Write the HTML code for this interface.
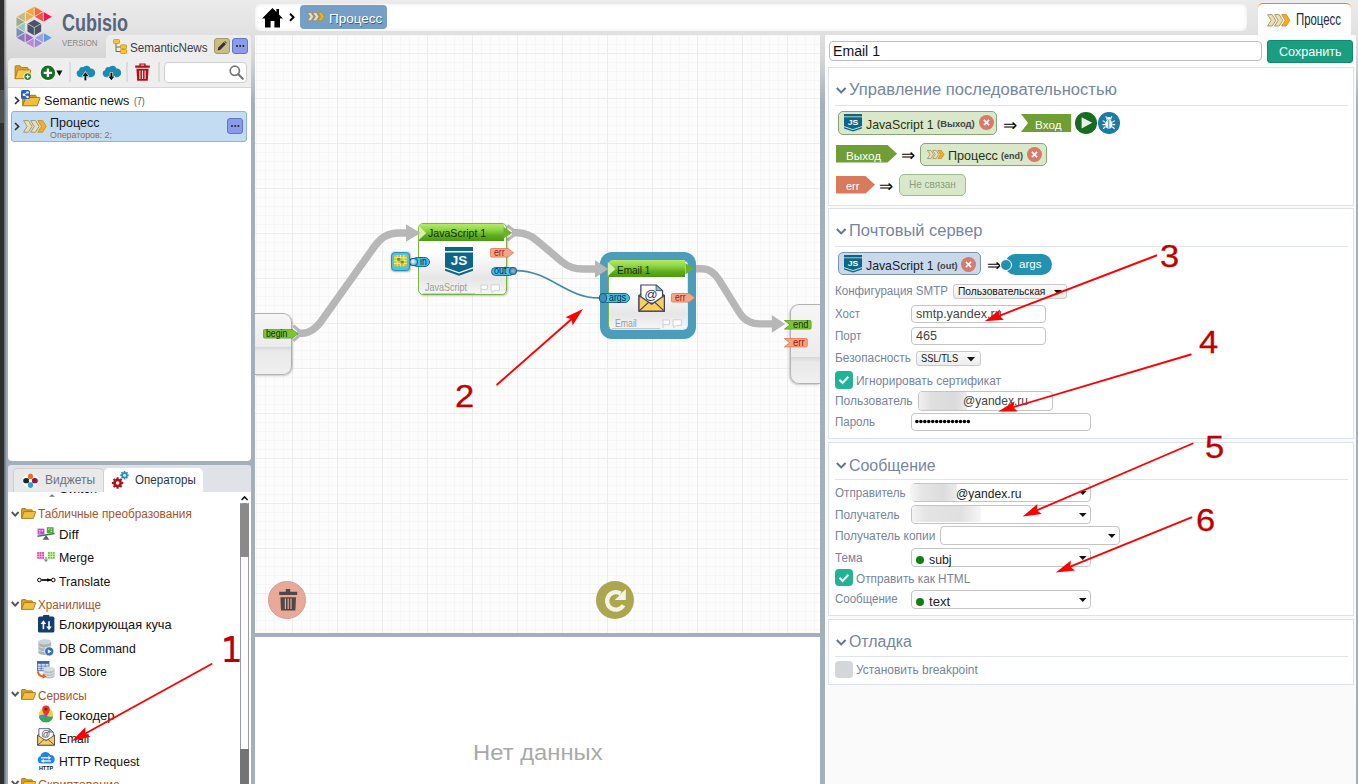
<!DOCTYPE html>
<html><head><meta charset="utf-8"><title>Cubisio</title>
<style>
*{box-sizing:border-box;margin:0;padding:0}
html,body{width:1358px;height:784px;overflow:hidden}
body{position:relative;font-family:"Liberation Sans",sans-serif;color:#111;
 background:linear-gradient(to bottom,#ebebeb 0,#e2e2e2 30px,#d6d6d6 58px,#a3b0bb 104px,#a3b0bb 100%);}
.a{position:absolute}
.t{position:absolute;white-space:nowrap;line-height:1;display:inline-block}
svg{position:absolute;overflow:visible}
.lbl{color:#76849a;font-size:12.5px}
.inp{position:absolute;background:#fff;border:1px solid #c4c4c4;border-radius:4px}
.sec{position:absolute;left:828px;width:526px;background:#fff;border:1px solid #dde2e8}
.hr{position:absolute;left:835px;width:513px;height:1px;background:#dfe4ea}
.h{color:#7686a0;font-size:17.5px}
.chip{position:absolute;border-radius:5px}
.gchip{background:#d9e8c9;border:1px solid #86a476}
.bchip{background:#c9d9ea;border:1px solid #7d93ad}
.x{position:absolute;width:15px;height:15px;border-radius:50%;background:#d67c6c}
.it{font-size:14px;color:#111}
.num{font-size:31.4px;color:#c00000;transform:scaleX(1.1);transform-origin:0 50%;-webkit-text-stroke:0.3px #c00000}
.grp{font-size:13px;color:#a5552a}
</style></head><body>

<!-- ===== frame ===== -->
<div class="a" style="left:0;top:0;width:4px;height:784px;background:#2f2f2f"></div>
<div class="a" style="left:0;top:90px;width:4px;height:33px;background:#505050"></div>
<div class="a" style="left:3.8px;top:0;width:3.4px;height:784px;background:linear-gradient(to right,rgba(40,44,48,.55),rgba(40,44,48,0))"></div>

<!-- LEFT-TOP -->
<!-- logo -->
<svg style="left:0;top:0" width="60" height="56">
<polygon points="34.30,6.30 34.30,16.80 25.21,11.55" fill="#f4a445" stroke="#eee" stroke-width="0.6"></polygon>
<polygon points="34.30,6.30 34.30,16.80 43.39,11.55" fill="#f2702f" stroke="#eee" stroke-width="0.6"></polygon>
<polygon points="25.21,11.55 25.21,22.05 34.30,16.80" fill="#ecb04c" stroke="#eee" stroke-width="0.6"></polygon>
<polygon points="25.21,11.55 25.21,22.05 16.11,16.80" fill="#c9b98a" stroke="#eee" stroke-width="0.6"></polygon>
<polygon points="43.39,11.55 43.39,22.05 34.30,16.80" fill="#f0514b" stroke="#eee" stroke-width="0.6"></polygon>
<polygon points="43.39,11.55 43.39,22.05 52.49,16.80" fill="#f0174a" stroke="#eee" stroke-width="0.6"></polygon>
<polygon points="16.11,16.80 16.11,27.30 25.21,22.05" fill="#a2a985" stroke="#eee" stroke-width="0.6"></polygon>
<polygon points="25.21,22.05 25.21,32.55 16.11,27.30" fill="#9cc2c2" stroke="#eee" stroke-width="0.6"></polygon>
<polygon points="16.11,27.30 16.11,37.80 25.21,32.55" fill="#7a8fba" stroke="#eee" stroke-width="0.6"></polygon>
<polygon points="25.21,32.55 25.21,43.05 16.11,37.80" fill="#8a7aba" stroke="#eee" stroke-width="0.6"></polygon>
<polygon points="25.21,32.55 25.21,43.05 34.30,37.80" fill="#9a6ac2" stroke="#eee" stroke-width="0.6"></polygon>
<polygon points="34.30,37.80 34.30,48.30 25.21,43.05" fill="#ba8ada" stroke="#eee" stroke-width="0.6"></polygon>
<polygon points="34.30,37.80 34.30,48.30 43.39,43.05" fill="#a08ad8" stroke="#eee" stroke-width="0.6"></polygon>
<polygon points="43.39,32.55 43.39,43.05 34.30,37.80" fill="#9aa2e2" stroke="#eee" stroke-width="0.6"></polygon>
<polygon points="43.39,32.55 43.39,43.05 52.49,37.80" fill="#6a98e0" stroke="#eee" stroke-width="0.6"></polygon>
<polygon points="34.30,19.70 41.14,23.65 41.14,31.55 34.30,35.50 27.46,31.55 27.46,23.65" fill="#4a5468"></polygon>
<line x1="34.30" y1="27.60" x2="41.14" y2="23.65" stroke="#e4e4e4" stroke-width="0.7"></line>
<line x1="34.30" y1="27.60" x2="34.30" y2="35.50" stroke="#e4e4e4" stroke-width="0.7"></line>
<line x1="34.30" y1="27.60" x2="27.46" y2="23.65" stroke="#e4e4e4" stroke-width="0.7"></line>
</svg>

<span class="t" style="left: 61.5px; top: 12.2px; font-size: 23px; font-weight: bold; color: rgb(86, 101, 126); transform-origin: 0px 50%; transform: scaleX(0.7825);">Cubisio</span>
<span class="t" style="left: 61.5px; top: 38.2px; font-size: 9.8px; color: rgb(134, 134, 134); transform-origin: 0px 50%; transform: scaleX(0.8048);">VERSION</span>
<!-- tab SemanticNews -->
<div class="a" style="left:106px;top:35px;width:145px;height:24px;background:#ededed;border-radius:5px 3px 0 0"></div>
<svg style="left:113px;top:39px" width="14" height="15" viewBox="0 0 14 15">
 <path d="M3 4.5V12.5H8M3 8H8" fill="none" stroke="#666" stroke-width="1"></path>
 <rect x="0.5" y="0.5" width="6" height="4" rx="0.8" fill="#f8c42c" stroke="#c8951a" stroke-width="0.8"></rect>
 <rect x="7.5" y="5.8" width="6" height="4" rx="0.8" fill="#f8c42c" stroke="#c8951a" stroke-width="0.8"></rect>
 <rect x="7.5" y="10.5" width="6" height="4" rx="0.8" fill="#f8c42c" stroke="#c8951a" stroke-width="0.8"></rect>
</svg>
<span class="t" style="left: 130.2px; top: 41.6px; font-size: 12.5px; color: rgb(64, 64, 64); transform-origin: 0px 50%; transform: scaleX(0.9307);">SemanticNews</span>
<div class="a" style="left:214px;top:38.3px;width:15.5px;height:15.5px;background:#c9bd8a;border:1px solid #a39a66;border-radius:3px"></div>
<svg style="left:217px;top:41px" width="10" height="10" viewBox="0 0 10 10"><path d="M0.6 9.4L1.3 6.6L6.8 1.1L8.9 3.2L3.4 8.7Z" fill="#333"></path><path d="M7.4 0.6L8 0L10 2L9.4 2.6Z" fill="#333"></path></svg>
<div class="a" style="left:232px;top:38.3px;width:15.6px;height:15.5px;background:#8b9bec;border:1px solid #6474c4;border-radius:3px"></div>
<div class="a" style="left:235.6px;top:45px;width:2px;height:2px;background:#222;border-radius:50%;box-shadow:3.2px 0 0 #222,6.4px 0 0 #222"></div>
<!-- toolbar -->
<div class="a" style="left:8px;top:57.5px;width:243px;height:30px;background:#eeeeee;border-radius:5px 0 0 0;border-bottom:1px solid #d6d6d6"></div>
<!-- folder+ -->
<svg style="left:13.7px;top:64.6px" width="19" height="16.4" viewBox="0 0 19 17">
 <path d="M0.8 14.2V1.6Q0.8 0.8 1.6 0.8H6L7.6 2.6H13.4Q14.2 2.6 14.2 3.4V5" fill="#dba02a" stroke="#b07d14" stroke-width="1"></path>
 <path d="M0.8 14.2L3.4 5.6Q3.6 5 4.3 5H16.4Q17.3 5 17 5.9L14.6 14.2Z" fill="#f5c94e" stroke="#b07d14" stroke-width="1"></path>
 <circle cx="13.8" cy="12" r="4.3" fill="#fff"></circle><circle cx="13.8" cy="12" r="3.5" fill="#1f8a2a"></circle>
 <path d="M13.8 10V14M11.8 12H15.8" stroke="#fff" stroke-width="1.3"></path>
</svg>
<!-- plus -->
<svg style="left:39px;top:63.5px" width="25" height="18" viewBox="0 0 25 18">
 <circle cx="8.9" cy="8.8" r="8.4" fill="#fff"></circle><circle cx="8.9" cy="8.8" r="7.2" fill="#166f20"></circle>
 <path d="M8.9 4.6V13M4.7 8.8H13.1" stroke="#fff" stroke-width="2.3"></path>
 <path d="M17.4 6.4L23.4 6.4L20.4 12Z" fill="#111"></path>
</svg>
<div class="a" style="left:68.5px;top:62px;width:2px;height:20px;background:#dcdcdc"></div>
<!-- cloud up -->
<svg style="left:76.3px;top:63.5px" width="19" height="17" viewBox="0 0 19 17">
 <path d="M4.4 13.2A3.7 3.7 0 0 1 3.2 6A3.3 3.3 0 0 1 7 3.2A4.6 4.6 0 0 1 14.6 4.4A4.4 4.4 0 0 1 15 13.2Z" fill="#1a8cb2"></path>
 <path d="M9.4 16.6V11.4" stroke="#fff" stroke-width="3.4"></path><path d="M5.4 12.4L9.4 7.2L13.4 12.4Z" fill="#fff"></path>
 <path d="M9.4 16.4V11.6" stroke="#111" stroke-width="2"></path><path d="M6.4 12L9.4 8.2L12.4 12Z" fill="#111"></path>
</svg>
<!-- cloud down -->
<svg style="left:101.8px;top:63.5px" width="19" height="17" viewBox="0 0 19 17">
 <path d="M4.4 13.2A3.7 3.7 0 0 1 3.2 6A3.3 3.3 0 0 1 7 3.2A4.6 4.6 0 0 1 14.6 4.4A4.4 4.4 0 0 1 15 13.2Z" fill="#1a8cb2"></path>
 <path d="M9.4 8.4V13" stroke="#fff" stroke-width="3.4"></path><path d="M5.4 12L9.4 17L13.4 12Z" fill="#fff"></path>
 <path d="M9.4 8.8V13" stroke="#111" stroke-width="2"></path><path d="M6.4 12.4L9.4 16.2L12.4 12.4Z" fill="#111"></path>
</svg>
<div class="a" style="left:125.8px;top:62px;width:2px;height:20px;background:#dcdcdc"></div>
<!-- trash red -->
<svg style="left:135.4px;top:62.6px" width="15" height="18" viewBox="0 0 15 18">
 <path d="M4.4 0.4H10.6V2.6H14.8V4.8H0.2V2.6H4.4Z" fill="#b01018"></path><rect x="5.8" y="1.6" width="3.4" height="1" fill="#eee"></rect>
 <path d="M1.4 5.8H13.6L12.8 17.8H2.2Z" fill="#b01018"></path>
 <path d="M4.9 7.4V16M7.5 7.4V16M10.1 7.4V16" stroke="#f3dede" stroke-width="1.1"></path>
</svg>
<div class="a" style="left:157.8px;top:62px;width:2px;height:20px;background:#dcdcdc"></div>
<div class="inp" style="left:164.3px;top:62.2px;width:82.4px;height:20.6px;border-color:#cfcfcf"></div>
<svg style="left:228.5px;top:65px" width="15" height="15" viewBox="0 0 15 15"><circle cx="5.8" cy="5.8" r="4.6" fill="none" stroke="#777" stroke-width="1.7"></circle><path d="M9.2 9.2L13.8 13.8" stroke="#777" stroke-width="2.2" stroke-linecap="round"></path></svg>
<!-- tree panel -->
<div class="a" style="left:8px;top:87.5px;width:243px;height:373.5px;background:#fff;border-radius:0 0 4px 4px"></div>
<!-- row1 -->
<svg style="left:13.6px;top:96px" width="6" height="9" viewBox="0 0 6 9"><path d="M1 1L4.6 4.5L1 8" fill="none" stroke="#333" stroke-width="1.7"></path></svg>
<svg style="left:22.4px;top:93.4px" width="19" height="14" viewBox="0 0 19 14">
 <path d="M0.7 12.6V1.4Q0.7 0.7 1.4 0.7H5.6L7 2.3H13.4Q14.1 2.3 14.1 3V4.4" fill="#d99f27" stroke="#a87610" stroke-width="1"></path>
 <path d="M0.7 12.8L3.6 5Q3.8 4.4 4.5 4.4H17.4Q18.3 4.4 18 5.2L15.2 12.8Z" fill="#f2c040" stroke="#a87610" stroke-width="1"></path>
</svg>
<div class="a" style="left:20.6px;top:89.5px;width:9.4px;height:9.4px;background:#2a62c8;border-radius:1.5px"></div>
<svg style="left:21.6px;top:90.5px" width="7.4" height="7.4" viewBox="0 0 8 8"><path d="M6 1.5L2 4L6 6.5" fill="none" stroke="#fff" stroke-width="0.9"></path><circle cx="6" cy="1.5" r="1.3" fill="#fff"></circle><circle cx="2" cy="4" r="1.3" fill="#fff"></circle><circle cx="6" cy="6.5" r="1.3" fill="#fff"></circle></svg>
<span class="t" style="left: 44.4px; top: 94.9px; font-size: 12.8px; color: rgb(21, 21, 21); transform-origin: 0px 50%; transform: scaleX(0.9841);">Semantic news</span>
<span class="t" style="left: 134px; top: 96.6px; font-size: 10px; color: rgb(85, 85, 85); transform-origin: 0px 50%; transform: scaleX(0.8664);">(7)</span>
<!-- row2 selected -->
<div class="a" style="left:11px;top:111px;width:236px;height:30.8px;background:#c4dcf2;border:1px solid #8db2e2;border-radius:3px"></div>
<svg style="left:13.6px;top:122px" width="6" height="9" viewBox="0 0 6 9"><path d="M1 1L4.6 4.5L1 8" fill="none" stroke="#333" stroke-width="1.7"></path></svg>
<svg style="left:22.6px;top:119.9px" width="23.8" height="12.8" viewBox="0 0 24 13" preserveAspectRatio="none"><path d="M0.6 0.6H5.4L9.0 6.5L5.4 12.4H0.6L4.2 6.5Z" fill="#f3dfa6" stroke="#8c8672" stroke-width="0.8" stroke-linejoin="round"></path><path d="M7.8 0.6H12.6L16.2 6.5L12.6 12.4H7.8L11.4 6.5Z" fill="#f3dfa6" stroke="#8c8672" stroke-width="0.8" stroke-linejoin="round"></path><path d="M15.0 0.6H19.8L23.4 6.5L19.8 12.4H15.0L18.6 6.5Z" fill="#f9ae16" stroke="#b98a2a" stroke-width="0.8" stroke-linejoin="round"></path></svg>
<span class="t" style="left: 50.4px; top: 117px; font-size: 12.6px; color: rgb(21, 21, 21); transform-origin: 0px 50%; transform: scaleX(0.9973);">Процесс</span>
<span class="t" style="left: 50.4px; top: 130.4px; font-size: 9.5px; color: rgb(139, 109, 77); transform-origin: 0px 50%; transform: scaleX(0.9319);">Операторов: 2;</span>
<div class="a" style="left:227.3px;top:118.3px;width:15.6px;height:15.8px;background:#8b9bec;border:1px solid #6474c4;border-radius:3px"></div>
<div class="a" style="left:230.9px;top:125.2px;width:2px;height:2px;background:#222;border-radius:50%;box-shadow:3.2px 0 0 #222,6.4px 0 0 #222"></div>

<!-- LEFT-BOTTOM -->
<!-- tabs bar -->
<div class="a" style="left:8px;top:465px;width:243px;height:27px;background:#dfe3e7;border-radius:3px 3px 0 0"></div>
<div class="a" style="left:13.4px;top:467.8px;width:90.4px;height:24.2px;background:#e9e9e9;border:1px solid #cfcfcf;border-bottom:none;border-radius:5px 5px 0 0"></div>
<div class="a" style="left:103.8px;top:467.8px;width:99.4px;height:24.4px;background:#fff;border-radius:5px 5px 0 0"></div>
<svg style="left:22.6px;top:472.6px" width="15" height="15.4" viewBox="0 0 15 15.4">
 <circle cx="7.5" cy="7.7" r="7.6" fill="#fff"></circle>
 <ellipse cx="7.5" cy="3.4" rx="2.6" ry="3" fill="#f06a2a"></ellipse><ellipse cx="7.5" cy="12" rx="2.6" ry="3" fill="#22a6c2"></ellipse>
 <ellipse cx="3.2" cy="7.7" rx="3" ry="2.6" fill="#222"></ellipse><ellipse cx="11.8" cy="7.7" rx="3" ry="2.6" fill="#8c1742"></ellipse>
 <circle cx="7.5" cy="7.7" r="1.7" fill="#fff"></circle>
</svg>
<span class="t" style="left: 45px; top: 474.2px; font-size: 12.5px; color: rgb(106, 114, 132); transform-origin: 0px 50%; transform: scaleX(0.9611);">Виджеты</span>
<svg style="left:0;top:0" width="10" height="10"><path d="M123.31 482.00L123.31 484.00L121.74 484.13L121.33 485.13L122.35 486.34L120.94 487.75L119.73 486.73L118.73 487.14L118.60 488.71L116.60 488.71L116.47 487.14L115.47 486.73L114.26 487.75L112.85 486.34L113.87 485.13L113.46 484.13L111.89 484.00L111.89 482.00L113.46 481.87L113.87 480.87L112.85 479.66L114.26 478.25L115.47 479.27L116.47 478.86L116.60 477.29L118.60 477.29L118.73 478.86L119.73 479.27L120.94 478.25L122.35 479.66L121.33 480.87L121.74 481.87ZM115.80 483.00a1.80 1.80 0 1 0 3.60 0a1.80 1.80 0 1 0 -3.60 0Z" fill="#b01116" fill-rule="evenodd"></path></svg>
<svg style="left:0;top:0" width="10" height="10"><path d="M128.74 474.56L128.74 476.04L127.57 476.14L127.26 476.88L128.02 477.77L126.97 478.82L126.08 478.06L125.34 478.37L125.24 479.54L123.76 479.54L123.66 478.37L122.92 478.06L122.03 478.82L120.98 477.77L121.74 476.88L121.43 476.14L120.26 476.04L120.26 474.56L121.43 474.46L121.74 473.72L120.98 472.83L122.03 471.78L122.92 472.54L123.66 472.23L123.76 471.06L125.24 471.06L125.34 472.23L126.08 472.54L126.97 471.78L128.02 472.83L127.26 473.72L127.57 474.46ZM123.00 475.30a1.50 1.50 0 1 0 3.00 0a1.50 1.50 0 1 0 -3.00 0Z" fill="#1b8cc0" fill-rule="evenodd"></path></svg>
<span class="t" style="left: 134.6px; top: 474.2px; font-size: 12.5px; color: rgb(45, 51, 64); transform-origin: 0px 50%; transform: scaleX(0.9261);">Операторы</span>
<!-- tree -->
<div class="a" style="left:8px;top:492px;width:243px;height:292px;background:#fff"></div>
<div class="a" style="left:8px;top:492px;width:230px;height:5.2px;overflow:hidden">
 <span class="t" style="left:51.4px;top:-9.3px;font-size:12.8px;color:#111">Switch</span>
 <svg style="left:41.2px;top:2.4px" width="6" height="2.8"><path d="M0 2.8L3 0.2L6 2.8Z" fill="#777"></path></svg>
</div>
<!-- scrollbar -->
<svg style="left:241px;top:495.6px" width="7.2" height="4.6" viewBox="0 0 7.2 4.6"><path d="M0.6 4L3.6 0.9L6.6 4" fill="none" stroke="#111" stroke-width="1.5"></path></svg>
<div class="a" style="left:240.2px;top:503.4px;width:8.4px;height:281px;background:#fdfdfd;border-left:1px solid #9c9c9c;border-right:1px solid #9c9c9c"></div>
<div class="a" style="left:240.2px;top:503.4px;width:8.4px;height:53.2px;background:#8a8a8a;border-radius:3px 3px 0 0"></div>
<div class="a" style="left:240.2px;top:749.4px;width:8.4px;height:35px;background:#747474"></div>

<!-- group: Табличные -->
<svg style="left:10.8px;top:510.6px" width="8.4" height="6" viewBox="0 0 8.4 6"><path d="M0.8 1L4.2 4.6L7.6 1" fill="none" stroke="#555" stroke-width="1.9"></path></svg>
<svg style="left:20.8px;top:508.3px" width="15.4" height="11.4" viewBox="0 0 19 14" preserveAspectRatio="none"><path d="M0.7 12.6V1.4Q0.7 0.7 1.4 0.7H5.6L7 2.3H13.4Q14.1 2.3 14.1 3V4.4" fill="#d99f27" stroke="#a87610" stroke-width="1.1"></path><path d="M0.7 12.8L3.6 5Q3.8 4.4 4.5 4.4H17.4Q18.3 4.4 18 5.2L15.2 12.8Z" fill="#f2c040" stroke="#a87610" stroke-width="1.1"></path></svg>
<span class="t grp" style="left: 38.3px; top: 508.4px; font-size: 12px; transform-origin: 0px 50%; transform: scaleX(0.9833);">Табличные преобразования</span>
<!-- Diff -->
<svg style="left:37px;top:527px" width="18" height="13.2" viewBox="0 0 18 13.2">
 <rect x="0.6" y="1.6" width="6.8" height="6" fill="#c052c0"></rect><path d="M2 3H3.4V4.4H2ZM4.6 3H6V4.4H4.6ZM2 5.4H3.4V6.6H2Z" fill="#f0c0f0"></path>
 <rect x="9.8" y="0.2" width="6.8" height="6" fill="#4caa3a"></rect><path d="M11 1.4H12.4V2.8H11ZM13.6 1.4H15V2.8H13.6ZM13.6 3.8H15V5H13.6Z" fill="#c8f0b8"></path>
 <path d="M0.4 9.2L17.6 6.4" stroke="#4c6c64" stroke-width="1.5"></path><path d="M9 8L12.4 12.8H5.6Z" fill="#4c6c64"></path>
</svg>
<span class="t it" style="left: 58.7px; top: 529.1px; font-size: 12.8px; transform-origin: 0px 50%; transform: scaleX(1.0333);">Diff</span>
<!-- Merge -->
<svg style="left:37px;top:552px" width="18" height="10.4" viewBox="0 0 18 10.4">
 <rect x="0.2" y="0.1" width="6.8" height="6.6" fill="#e632b4"></rect><path d="M2.3 0V6.8M4.7 0V6.8M0 2.3H7M0 4.5H7" stroke="#fbd" stroke-width="0.8"></path>
 <rect x="10.9" y="0.1" width="6.9" height="6.6" fill="#66c22e"></rect><path d="M13.1 0V6.8M15.5 0V6.8M10.8 2.3H18M10.8 4.5H18" stroke="#d8f5c0" stroke-width="0.8"></path>
 <path d="M9 5V8" stroke="#7e9490" stroke-width="1.3"></path><path d="M6.8 7.4H11.2L9 10.2Z" fill="#7e9490"></path>
</svg>
<span class="t it" style="left: 58.7px; top: 552.3px; font-size: 12.8px; transform-origin: 0px 50%; transform: scaleX(0.9647);">Merge</span>
<!-- Translate -->
<svg style="left:36.6px;top:577px" width="19" height="6" viewBox="0 0 19 6">
 <path d="M4.4 3H14" stroke="#000" stroke-width="1.7"></path><path d="M10.4 0.9L13.6 3L10.4 5.1Z" fill="#000"></path>
 <circle cx="2.4" cy="3" r="1.8" fill="#fff" stroke="#000" stroke-width="1"></circle><circle cx="16.3" cy="3" r="1.8" fill="#fff" stroke="#000" stroke-width="1"></circle>
</svg>
<span class="t it" style="left: 58.7px; top: 576.2px; font-size: 12.8px; transform-origin: 0px 50%; transform: scaleX(0.9702);">Translate</span>

<!-- group: Хранилище -->
<svg style="left:10.8px;top:601px" width="8.4" height="6" viewBox="0 0 8.4 6"><path d="M0.8 1L4.2 4.6L7.6 1" fill="none" stroke="#555" stroke-width="1.9"></path></svg>
<svg style="left:20.8px;top:599.1px" width="15.4" height="11.4" viewBox="0 0 19 14" preserveAspectRatio="none"><path d="M0.7 12.6V1.4Q0.7 0.7 1.4 0.7H5.6L7 2.3H13.4Q14.1 2.3 14.1 3V4.4" fill="#d99f27" stroke="#a87610" stroke-width="1.1"></path><path d="M0.7 12.8L3.6 5Q3.8 4.4 4.5 4.4H17.4Q18.3 4.4 18 5.2L15.2 12.8Z" fill="#f2c040" stroke="#a87610" stroke-width="1.1"></path></svg>
<span class="t grp" style="left: 37.6px; top: 599.4px; font-size: 12px; transform-origin: 0px 50%; transform: scaleX(0.9736);">Хранилище</span>
<!-- Блокирующая куча -->
<svg style="left:37.8px;top:615.4px" width="16.4" height="17.6" viewBox="0 0 16.4 17.6">
 <rect x="0" y="1.6" width="16.4" height="16" rx="1.6" fill="#143c72"></rect><rect x="5" y="0" width="6.4" height="3.4" rx="0.8" fill="#143c72"></rect>
 <path d="M5.4 14.2V7.4" stroke="#fff" stroke-width="1.6"></path><path d="M2.6 9L5.4 5.2L8.2 9Z" fill="#fff"></path>
 <path d="M11 6.2V13" stroke="#fff" stroke-width="1.6"></path><path d="M8.2 11.4L11 15.2L13.8 11.4Z" fill="#fff"></path>
</svg>
<span class="t it" style="left: 58.7px; top: 619px; font-size: 12.8px; transform-origin: 0px 50%; transform: scaleX(0.9985);">Блокирующая куча</span>
<!-- DB Command -->
<svg style="left:37.8px;top:638.6px" width="16" height="17.2" viewBox="0 0 16 17.2">
 <path d="M0.4 2.8V13.4A6.4 2.6 0 0 0 13.2 13.4V2.8Z" fill="#a9b2b6"></path>
 <path d="M0.4 6.4A6.4 2.6 0 0 0 13.2 6.4M0.4 10A6.4 2.6 0 0 0 13.2 10" fill="none" stroke="#d9dfe2" stroke-width="1"></path>
 <ellipse cx="6.8" cy="2.8" rx="6.4" ry="2.6" fill="#ccd3d7"></ellipse>
 <circle cx="11.2" cy="12.4" r="4.6" fill="#2f6fc4" stroke="#fff" stroke-width="0.8"></circle><path d="M9.8 10.2L13.4 12.4L9.8 14.6Z" fill="#fff"></path>
</svg>
<span class="t it" style="left: 58.7px; top: 642.5px; font-size: 12.8px; transform-origin: 0px 50%; transform: scaleX(0.9543);">DB Command</span>
<!-- DB Store -->
<svg style="left:37px;top:661.2px" width="18" height="18" viewBox="0 0 18 18">
 <rect x="0.4" y="0.4" width="11.6" height="9.4" fill="#cfe0f4" stroke="#3c64a8" stroke-width="0.8"></rect>
 <rect x="0.4" y="0.4" width="11.6" height="2.4" fill="#3c64a8"></rect>
 <path d="M4.2 0.4V9.8M8.2 0.4V9.8M0.4 5.2H12M0.4 7.6H12" stroke="#3c64a8" stroke-width="0.6"></path>
 <path d="M6.4 8V15A5.6 2.4 0 0 0 17.6 15V8Z" fill="#b9c0c4"></path>
 <path d="M6.4 10.6A5.6 2.4 0 0 0 17.6 10.6M6.4 13A5.6 2.4 0 0 0 17.6 13" fill="none" stroke="#e2e6e8" stroke-width="0.9"></path>
 <ellipse cx="12" cy="8" rx="5.6" ry="2.4" fill="#d8dde0"></ellipse>
 <path d="M0.8 10.4Q1.6 15.6 6.6 15.4" fill="none" stroke="#e8661c" stroke-width="2"></path><path d="M5.6 12.6L9.6 15.4L5.6 17.8Z" fill="#e8661c"></path>
</svg>
<span class="t it" style="left: 58.7px; top: 665.6px; font-size: 12.8px; transform-origin: 0px 50%; transform: scaleX(0.9206);">DB Store</span>

<!-- group: Сервисы -->
<svg style="left:10.8px;top:691.2px" width="8.4" height="6" viewBox="0 0 8.4 6"><path d="M0.8 1L4.2 4.6L7.6 1" fill="none" stroke="#555" stroke-width="1.9"></path></svg>
<svg style="left:20.8px;top:689.3px" width="15.4" height="11.4" viewBox="0 0 19 14" preserveAspectRatio="none"><path d="M0.7 12.6V1.4Q0.7 0.7 1.4 0.7H5.6L7 2.3H13.4Q14.1 2.3 14.1 3V4.4" fill="#d99f27" stroke="#a87610" stroke-width="1.1"></path><path d="M0.7 12.8L3.6 5Q3.8 4.4 4.5 4.4H17.4Q18.3 4.4 18 5.2L15.2 12.8Z" fill="#f2c040" stroke="#a87610" stroke-width="1.1"></path></svg>
<span class="t grp" style="left: 37.6px; top: 689.6px; font-size: 12px; transform-origin: 0px 50%; transform: scaleX(0.9815);">Сервисы</span>
<!-- Геокодер -->
<svg style="left:38.3px;top:705.4px" width="16" height="17.4" viewBox="0 0 16 17.4">
 <circle cx="8" cy="10" r="7.3" fill="#f6cf4a"></circle>
 <path d="M0.8 11.2Q4 8.4 8 10.4Q12 12.4 15.2 11.2A7.3 7.3 0 0 1 0.8 11.2Z" fill="#3f8de0"></path>
 <path d="M1.4 13.2Q8 12 14.6 13.2A7.3 7.3 0 0 1 1.4 13.2Z" fill="#3aa852"></path>
 <path d="M8 12.4Q4.2 6.6 4.2 4.2A3.8 3.8 0 0 1 11.8 4.2Q11.8 6.6 8 12.4Z" fill="#e23c2e"></path><circle cx="8" cy="4.2" r="1.4" fill="#8e1a12"></circle>
</svg>
<span class="t it" style="left: 58.7px; top: 710.3px; font-size: 12.8px; transform-origin: 0px 50%; transform: scaleX(1.0166);">Геокодер</span>
<!-- Email -->
<svg style="left:37px;top:728px" width="18.2" height="17.8" viewBox="0 0 27 28" preserveAspectRatio="none"><path d="M1 11.4L13.5 3L26 11.4V27H1Z" fill="#f8cf58" stroke="#3c3f66" stroke-width="1.2" stroke-linejoin="round"></path><path d="M2.8 1H17.8L24.2 6.6V19H2.8Z" fill="#fff" stroke="#3c3f66" stroke-width="1.2" stroke-linejoin="round"></path><path d="M17.8 1V6.6H24.2Z" fill="#7fd0c0" stroke="#3c3f66" stroke-width="0.8"></path><text x="12.8" y="14.6" text-anchor="middle" font-family="Liberation Sans" font-size="13" fill="#2f3258">@</text><path d="M1 11.4L13.5 20L26 11.4V27H1Z" fill="#f8cf58" stroke="#3c3f66" stroke-width="1.2" stroke-linejoin="round"></path><path d="M1 27L10.6 18M26 27L16.4 18" stroke="#3c3f66" stroke-width="1.2"></path></svg>
<span class="t it" style="left: 58.7px; top: 733px; font-size: 12.8px; transform-origin: 0px 50%; transform: scaleX(0.9437);">Email</span>
<!-- HTTP Request -->
<svg style="left:37px;top:752.4px" width="18" height="17.8" viewBox="0 0 18 17.8">
 <path d="M4.2 11.6A3.8 3.8 0 0 1 3.4 4.2A5.4 5.4 0 0 1 13.4 2.9A4.4 4.4 0 0 1 14.2 11.6Z" fill="#1e84f0"></path>
 <path d="M4 5.8H12.4" stroke="#fff" stroke-width="1.3"></path><path d="M11.4 3.8L14.2 5.8L11.4 7.8Z" fill="#fff"></path>
 <path d="M5.6 9H14" stroke="#fff" stroke-width="1.3"></path><path d="M6.6 7L3.8 9L6.6 11Z" fill="#fff"></path>
 <text x="9" y="17.6" text-anchor="middle" font-family="Liberation Sans" font-weight="bold" font-size="5.6" fill="#111" textLength="14" lengthAdjust="spacingAndGlyphs">HTTP</text>
</svg>
<span class="t it" style="left: 58.7px; top: 756px; font-size: 12.8px; transform-origin: 0px 50%; transform: scaleX(0.9525);">HTTP Request</span>
<!-- group: Скриптование (cut) -->
<svg style="left:10.8px;top:779.6px" width="8.4" height="6" viewBox="0 0 8.4 6"><path d="M0.8 1L4.2 4.6L7.6 1" fill="none" stroke="#555" stroke-width="1.9"></path></svg>
<svg style="left:20.8px;top:778.4px" width="15.4" height="11.4" viewBox="0 0 19 14" preserveAspectRatio="none"><path d="M0.7 12.6V1.4Q0.7 0.7 1.4 0.7H5.6L7 2.3H13.4Q14.1 2.3 14.1 3V4.4" fill="#d99f27" stroke="#a87610" stroke-width="1.1"></path><path d="M0.7 12.8L3.6 5Q3.8 4.4 4.5 4.4H17.4Q18.3 4.4 18 5.2L15.2 12.8Z" fill="#f2c040" stroke="#a87610" stroke-width="1.1"></path></svg>
<span class="t grp" style="left: 37.6px; top: 779.4px; font-size: 12px; transform-origin: 0px 50%; transform: scaleX(1.0413);">Скриптование</span>

<!-- CENTER -->
<!-- breadcrumb -->
<div class="a" style="left:255px;top:4px;width:992px;height:26.6px;background:#fff;border-radius:5px;box-shadow:inset 0 0 4px rgba(0,0,0,.10)"></div>
<svg style="left:262px;top:7.6px" width="21" height="19.6" viewBox="0 0 21 19.6">
 <path d="M10.5 0L0 10.6H3V19.6H8.6V13H12.4V19.6H18V10.6H21L17 6.5V1H14.4V3.9Z" fill="#000"></path>
</svg>
<svg style="left:289.4px;top:13px" width="6" height="8.6" viewBox="0 0 6 8.6"><path d="M1 0.8L4.6 4.3L1 7.8" fill="none" stroke="#000" stroke-width="1.9"></path></svg>
<div class="a" style="left:300px;top:5px;width:87px;height:24px;background:#759fc6;border-radius:4px"></div>
<svg style="left:307.0px;top:12.4px" width="17.7" height="9.2" viewBox="0 0 24 13" preserveAspectRatio="none"><path d="M0.6 0.6H5.4L9.0 6.5L5.4 12.4H0.6L4.2 6.5Z" fill="#f3dfa6" stroke="#8c8672" stroke-width="1.0" stroke-linejoin="round"></path><path d="M7.8 0.6H12.6L16.2 6.5L12.6 12.4H7.8L11.4 6.5Z" fill="#f3dfa6" stroke="#8c8672" stroke-width="1.0" stroke-linejoin="round"></path><path d="M15.0 0.6H19.8L23.4 6.5L19.8 12.4H15.0L18.6 6.5Z" fill="#f9ae16" stroke="#b98a2a" stroke-width="1.0" stroke-linejoin="round"></path></svg>
<span class="t" style="left: 329px; top: 12.4px; font-size: 13px; color: rgb(255, 255, 255); text-shadow: rgb(63, 95, 130) 0.8px 0.8px 0px; transform-origin: 0px 50%; transform: scaleX(1.0362);">Процесс</span>

<!-- canvas -->
<div class="a" style="left:255px;top:35px;width:565px;height:598px;background-color:#fcfcfc;
 background-image:linear-gradient(to right,#ececec 1px,transparent 1px),linear-gradient(to bottom,#ececec 1px,transparent 1px),linear-gradient(to right,#f6f6f6 1px,transparent 1px),linear-gradient(to bottom,#f6f6f6 1px,transparent 1px);
 background-size:45px 45px,45px 45px,9px 9px,9px 9px;background-position:37px 18px,37px 18px,1px 0px,1px 0px"></div>
<!-- bottom panel -->
<div class="a" style="left:255px;top:637px;width:565px;height:147px;background:#fff"></div>
<span class="t" style="left: 473px; top: 741.6px; font-size: 22.5px; color: rgb(169, 169, 169); transform-origin: 0px 50%; transform: scaleX(1.058);">Нет данных</span>

<!-- begin / end blocks -->
<div class="a" style="left:255px;top:313.3px;width:37px;height:61.6px;border:1px solid #b2b2b2;border-left:none;border-radius:0 9px 9px 0;background:linear-gradient(#f6f6f6 0,#ececec 54%,#d8d8d8 55%,#e9e9e9 62%,#f0f0f0 100%);box-shadow:1px 1px 2px rgba(0,0,0,.2)"></div>
<div class="a" style="left:790.2px;top:304.2px;width:30px;height:79.8px;border:1px solid #b2b2b2;border-right:none;border-radius:9px 0 0 9px;background:linear-gradient(#f6f6f6 0,#ececec 66%,#d8d8d8 67%,#e9e9e9 73%,#f0f0f0 100%);box-shadow:-1px 1px 2px rgba(0,0,0,.2)"></div>

<!-- wires -->
<svg style="left:0;top:0" width="1358" height="784">
 <g fill="none" stroke="#b7b7b7" stroke-width="7.4" stroke-linejoin="round">
  <path d="M297 333.2H302Q312.8 333.2 322 320.1L374.8 246Q384 233 398 233H408"></path>
  <path d="M512 232.8H517Q527.8 232.8 537 240.6L561.3 261.2Q570.4 269 583 269H598"></path>
  <path d="M694 268.7H702Q712 268.7 718.9 279.7L739.6 312.9Q746.5 323.9 760 323.9H775"></path>
 </g>
 <g fill="none" stroke="#b7b7b7" stroke-width="3.2">
  <path d="M293.4 325.8L302 333.2L293.4 340.6"></path>
  <path d="M507.4 225.4L516.4 232.8L507.4 240.2"></path>
  <path d="M689.4 261.4L698.2 268.7L689.4 276"></path>
 </g>
 <g fill="#b7b7b7">
  <path d="M406 224.4L420.4 233L406 241.6Z"></path>
  <path d="M595.2 260.6L608.2 269L595.2 277.4Z"></path>
  <path d="M771.8 315L785.2 323.9L771.8 332.8Z"></path>
 </g>
 <path d="M516 270.6C549.4 270.6 565.6 297.9 599 297.9" fill="none" stroke="#3b8ba3" stroke-width="1.6"></path>
</svg>

<!-- JS node -->
<div class="a" style="left:418.3px;top:223.1px;width:88.4px;height:71.8px;border:1px solid #7ab446;border-radius:5px;background:linear-gradient(#fff 0,#fff 40%,#e6e6e6 78%,#f6f6f6 100%);box-shadow:1px 1px 2px rgba(0,0,0,.22)"></div>
<div class="a" style="left:419.3px;top:224px;width:84.6px;height:16.8px;border-radius:4px 0 0 0;background:linear-gradient(#b5ea68 0,#8fd545 35%,#5dab1d 70%,#4a9a10 100%)"></div>
<svg style="left:0;top:0" width="1358" height="784">
 <path d="M418.8 226.4L425.6 233L418.8 239.6" fill="#d6f2a8" stroke="#e8f8cc" stroke-width="0.8"></path>
 <path d="M406 224.4L420.4 233L406 241.6Z" fill="#b7b7b7"></path>
 <path d="M503.6 227L512.2 232.8L503.6 238.6Z" fill="#6bb32c"></path>
</svg>
<span class="t" style="left: 427.8px; top: 227.4px; font-size: 11.6px; color: rgb(20, 48, 10); transform-origin: 0px 50%; transform: scaleX(0.9123);">JavaScript 1</span>
<svg style="left:445.0px;top:247.0px" width="28.0" height="28.8" viewBox="0 0 28 29" preserveAspectRatio="none"><rect x="0" y="0" width="28" height="4" fill="#0d6687"></rect><path d="M0 5.6H28V24L14 29L0 24Z" fill="#0d6687"></path><path d="M0 21L14 26L28 21" fill="none" stroke="#fff" stroke-width="1.3"></path><text x="14" y="18.2" text-anchor="middle" font-family="Liberation Sans" font-weight="bold" font-size="13.5" fill="#fff">JS</text></svg>
<span class="t" style="left: 425.3px; top: 283px; font-size: 10.4px; color: rgb(154, 154, 154); transform-origin: 0px 50%; transform: scaleX(0.8657);">JavaScript</span>
<div class="a" style="left:423px;top:292.6px;width:52px;height:1px;background:#c9c9c9"></div>
<svg style="left:480.4px;top:283.6px" width="22" height="10" viewBox="0 0 22 10"><path d="M1 0.6V9.2M1 1H7.4V5.4H1" fill="#fdfdfd" stroke="#d0d0d0" stroke-width="1"></path><path d="M11 0.8H19.4V6.4H14.4L11.8 8.8V6.4H11Z" fill="#fdfdfd" stroke="#d0d0d0" stroke-width="1"></path></svg>
<!-- err tag -->
<svg style="left:489.6px;top:248.4px" width="24.0" height="9.6"><path d="M1.5 0.5H18.0L23.6 4.8L18.0 9.1H1.5Q0.5 9.1 0.5 8.1V1.5Q0.5 0.5 1.5 0.5Z" fill="#f4a686" stroke="#d97a55" stroke-width="0.8"></path></svg>
<span class="t" style="left: 493.6px; top: 248.2px; font-size: 10px; color: rgb(154, 24, 24); transform-origin: 0px 50%; transform: scaleX(0.8664);">err</span>
<!-- out tag -->
<div class="a" style="left:490.6px;top:266.6px;width:23px;height:9.6px;background:#46bfe6;border:1px solid #1a6a9a;border-radius:5px"></div>
<div class="a" style="left:509.4px;top:267.2px;width:7.6px;height:7.8px;border-radius:50%;background:radial-gradient(#9ac 20%,#3a8ab0 80%);border:1px solid #1c5f86"></div>
<span class="t" style="left: 494.4px; top: 266.2px; font-size: 10px; color: rgb(10, 42, 74); transform-origin: 0px 50%; transform: scaleX(0.9061);">out</span>
<!-- in tag + datasource -->
<div class="a" style="left:412px;top:257.2px;width:18.4px;height:9.8px;background:#46bfe6;border:1px solid #1a6a9a;border-radius:5px"></div>
<div class="a" style="left:409.4px;top:257.6px;width:8.6px;height:8.8px;border-radius:50%;background:radial-gradient(circle at 40% 40%,#e8f6ff 10%,#57b7e6 70%);border:1.4px solid #1c5f86"></div>
<span class="t" style="left: 420.2px; top: 256.8px; font-size: 10px; color: rgb(10, 42, 74); transform-origin: 0px 50%; transform: scaleX(0.8721);">in</span>
<div class="a" style="left:390.8px;top:251.5px;width:19.4px;height:19.2px;background:#4fc3e4;border:1px solid #2492b8;border-radius:4px;box-shadow:0.6px 0.6px 1.6px rgba(0,0,0,.3)"></div>
<svg style="left:394px;top:255.4px" width="13" height="11.4" viewBox="0 0 13 11.4">
 <rect width="13" height="11.4" fill="#c9c430"></rect>
 <path d="M0 2.9H13M0 5.7H13M0 8.5H13M3.2 0V11.4M6.5 0V11.4M9.8 0V11.4" stroke="#f0ee9a" stroke-width="0.9"></path>
 <path d="M3.2 2.9H6.5V5.7H3.2ZM6.5 5.7H9.8V8.5H6.5Z" fill="#8a8420"></path>
</svg>

<!-- Email node -->
<div class="a" style="left:600.2px;top:252px;width:95.8px;height:87px;border-radius:12px;background:#4c9cbb"></div>
<div class="a" style="left:607.6px;top:259.6px;width:80.2px;height:70.6px;border:1px solid #7ab446;border-right-color:#dfe8da;border-bottom-color:#dfe8da;border-radius:5px;background:linear-gradient(#fff 0,#fff 40%,#e6e6e6 78%,#f6f6f6 100%)"></div>
<div class="a" style="left:608.6px;top:260.4px;width:76.8px;height:16.8px;border-radius:4px 0 0 0;background:linear-gradient(#b5ea68 0,#8fd545 35%,#5dab1d 70%,#4a9a10 100%)"></div>
<svg style="left:0;top:0" width="1358" height="784">
 <path d="M607.8 262.4L614.8 269L607.8 275.6" fill="#d6f2a8" stroke="#e8f8cc" stroke-width="0.8"></path>
 <path d="M595.2 260.6L608.2 269L595.2 277.4Z" fill="#b7b7b7"></path>
 <path d="M685.4 263L694 268.7L685.4 274.4Z" fill="#6bb32c"></path>
</svg>
<span class="t" style="left: 617.4px; top: 263.6px; font-size: 11.6px; color: rgb(20, 48, 10); transform-origin: 0px 50%; transform: scaleX(0.8637);">Email 1</span>
<svg style="left:637.6px;top:283.6px" width="27.4" height="28.2" viewBox="0 0 27 28" preserveAspectRatio="none"><path d="M1 11.4L13.5 3L26 11.4V27H1Z" fill="#f8cf58" stroke="#3c3f66" stroke-width="1.2" stroke-linejoin="round"></path><path d="M2.8 1H17.8L24.2 6.6V19H2.8Z" fill="#fff" stroke="#3c3f66" stroke-width="1.2" stroke-linejoin="round"></path><path d="M17.8 1V6.6H24.2Z" fill="#7fd0c0" stroke="#3c3f66" stroke-width="0.8"></path><text x="12.8" y="14.6" text-anchor="middle" font-family="Liberation Sans" font-size="13" fill="#2f3258">@</text><path d="M1 11.4L13.5 20L26 11.4V27H1Z" fill="#f8cf58" stroke="#3c3f66" stroke-width="1.2" stroke-linejoin="round"></path><path d="M1 27L10.6 18M26 27L16.4 18" stroke="#3c3f66" stroke-width="1.2"></path></svg>
<span class="t" style="left: 614.6px; top: 318.6px; font-size: 10.4px; color: rgb(154, 154, 154); transform-origin: 0px 50%; transform: scaleX(0.839);">Email</span>
<div class="a" style="left:612px;top:328.2px;width:48px;height:1px;background:#c9c9c9"></div>
<svg style="left:662.0px;top:319.4px" width="22" height="10" viewBox="0 0 22 10"><path d="M1 0.6V9.2M1 1H7.4V5.4H1" fill="#fdfdfd" stroke="#d0d0d0" stroke-width="1"></path><path d="M11 0.8H19.4V6.4H14.4L11.8 8.8V6.4H11Z" fill="#fdfdfd" stroke="#d0d0d0" stroke-width="1"></path></svg>
<!-- args tag -->
<div class="a" style="left:602px;top:293px;width:28.2px;height:10.2px;background:#46bfe6;border:1px solid #1a6a9a;border-radius:5px"></div>
<div class="a" style="left:598.8px;top:293.4px;width:8.2px;height:9.4px;border-radius:50%;background:#3f8fb0;border:1.6px solid #1c5a86;border-right-width:0.6px"></div>
<span class="t" style="left: 609.2px; top: 292.6px; font-size: 10px; color: rgb(10, 42, 74); transform-origin: 0px 50%; transform: scaleX(0.8842);">args</span>
<svg style="left:671.2px;top:293.4px" width="24.4" height="9.6"><path d="M1.5 0.5H18.4L24.0 4.8L18.4 9.1H1.5Q0.5 9.1 0.5 8.1V1.5Q0.5 0.5 1.5 0.5Z" fill="#f4a686" stroke="#d97a55" stroke-width="0.8"></path></svg>
<span class="t" style="left: 675.4px; top: 293.2px; font-size: 10px; color: rgb(154, 24, 24); transform-origin: 0px 50%; transform: scaleX(0.8664);">err</span>

<!-- begin / end tags -->
<svg style="left:262.8px;top:329.0px" width="35.4" height="9.6"><path d="M1.5 0.5H29.4L35.0 4.8L29.4 9.1H1.5Q0.5 9.1 0.5 8.1V1.5Q0.5 0.5 1.5 0.5Z" fill="#7cc433" stroke="#5aa020" stroke-width="0.8"></path></svg>
<span class="t" style="left: 266px; top: 328.6px; font-size: 10px; color: rgb(20, 48, 10); transform-origin: 0px 50%; transform: scaleX(0.8746);">begin</span>
<svg style="left:784.0px;top:320.2px" width="27.6" height="9.6"><path d="M0.4 0.5H26.1Q27.1 0.5 27.1 1.5V8.1Q27.1 9.1 26.1 9.1H0.4L6.0 4.8Z" fill="#7cc433" stroke="#5aa020" stroke-width="0.8"></path></svg>
<span class="t" style="left: 793.4px; top: 320px; font-size: 10px; color: rgb(20, 48, 10); transform-origin: 0px 50%; transform: scaleX(0.9228);">end</span>
<svg style="left:784.0px;top:338.2px" width="23.8" height="9.4"><path d="M0.4 0.5H22.3Q23.3 0.5 23.3 1.5V7.9Q23.3 8.9 22.3 8.9H0.4L5.8 4.7Z" fill="#f9a27a" stroke="#d97a55" stroke-width="0.8"></path></svg>
<span class="t" style="left: 793.4px; top: 338px; font-size: 10px; color: rgb(154, 24, 24); transform-origin: 0px 50%; transform: scaleX(0.9481);">err</span>

<!-- round buttons -->
<div class="a" style="left:268px;top:581.2px;width:37.6px;height:37.6px;border-radius:50%;background:#e8a999;border:1px solid #dc9c8c"></div>
<svg style="left:278.6px;top:589px" width="18.4" height="21.6" viewBox="0 0 18.4 21.6">
 <path d="M6.8 0H11.2V2.8H18.2V6H0.2V2.8H6.8Z" fill="#4f4848"></path>
 <path d="M1.4 8.2H17L16.4 21.6H2Z" fill="#4f4848"></path>
 <path d="M6.4 9.4V20M9.2 9.4V20M12 9.4V20" stroke="#e8a999" stroke-width="1.2"></path>
</svg>
<div class="a" style="left:596px;top:581px;width:38px;height:38px;border-radius:50%;background:#aca651"></div>
<svg style="left:596px;top:581px" width="38" height="38" viewBox="0 0 38 38">
 <path d="M27.4 24.2A8.7 8.7 0 1 1 24.6 12.6" fill="none" stroke="#f5f3e6" stroke-width="4.3"></path>
 <path d="M29.8 8V19H18.8Z" fill="#f5f3e6"></path>
</svg>

<!-- RIGHT -->
<!-- right panel bg -->
<div class="a" style="left:825px;top:34.6px;width:531.4px;height:750px;background:#fafafa;border-radius:0 2px 0 0"></div>
<div class="a" style="left:825px;top:34.6px;width:531.4px;height:32px;background:#fdfdfd;border-radius:0 2px 0 0"></div>
<!-- top tab -->
<div class="a" style="left:1257.6px;top:2.8px;width:93px;height:33px;background:#fdfdfd;border-top:1.6px solid #e0873e;border-radius:5px 5px 0 0"></div>
<svg style="left:1266.8px;top:13.8px" width="23.4" height="12.6" viewBox="0 0 24 13" preserveAspectRatio="none"><path d="M0.6 0.6H5.4L9.0 6.5L5.4 12.4H0.6L4.2 6.5Z" fill="#f3dfa6" stroke="#8c8672" stroke-width="0.8" stroke-linejoin="round"></path><path d="M7.8 0.6H12.6L16.2 6.5L12.6 12.4H7.8L11.4 6.5Z" fill="#f3dfa6" stroke="#8c8672" stroke-width="0.8" stroke-linejoin="round"></path><path d="M15.0 0.6H19.8L23.4 6.5L19.8 12.4H15.0L18.6 6.5Z" fill="#f9ae16" stroke="#b98a2a" stroke-width="0.8" stroke-linejoin="round"></path></svg>
<span class="t" style="left: 1296.3px; top: 12px; font-size: 16px; color: rgb(34, 42, 56); transform-origin: 0px 50%; transform: scaleX(0.7122);">Процесс</span>
<!-- name + save -->
<div class="inp" style="left:829px;top:41px;width:433.4px;height:20px;border-color:#bdbdbd"></div>
<span class="t" style="left: 833.4px; top: 44px; font-size: 14px; color: rgb(17, 17, 17); transform-origin: 0px 50%; transform: scaleX(1.0067);">Email 1</span>
<div class="a" style="left:1267.2px;top:40.3px;width:85.6px;height:22.4px;background:#199e80;border-radius:3px;border:1px solid #14886c"></div>
<span class="t" style="left: 1278.6px; top: 45px; font-size: 13.6px; color: rgb(255, 255, 255); transform-origin: 0px 50%; transform: scaleX(0.928);">Сохранить</span>

<!-- ===== section 1 ===== -->
<div class="sec" style="top:67px;height:139px"></div>
<svg style="left:836.4px;top:86.6px" width="10.4" height="6.6" viewBox="0 0 10.4 6.6"><path d="M0.8 1L5.2 5.4L9.6 1" fill="none" stroke="#62748f" stroke-width="2"></path></svg>
<span class="t h" style="left: 849px; top: 82.2px; font-size: 15.8px; transform-origin: 0px 50%; transform: scaleX(1.05);">Управление последовательностью</span>
<div class="hr" style="top:105px"></div>
<div class="chip gchip" style="left:838px;top:111.2px;width:158.8px;height:23.6px"></div>
<svg style="left:844.0px;top:114.2px" width="18.0" height="17.4" viewBox="0 0 28 29" preserveAspectRatio="none"><rect x="0" y="0" width="28" height="4" fill="#0d6687"></rect><path d="M0 5.6H28V24L14 29L0 24Z" fill="#0d6687"></path><path d="M0 21L14 26L28 21" fill="none" stroke="#fff" stroke-width="1.3"></path><text x="14" y="18.2" text-anchor="middle" font-family="Liberation Sans" font-weight="bold" font-size="13.5" fill="#fff">JS</text></svg>
<span class="t" style="left: 865.7px; top: 119.4px; font-size: 12.8px; color: rgb(38, 51, 14); transform-origin: 0px 50%; transform: scaleX(0.9599);">JavaScript 1</span>
<span class="t" style="left: 936.9px; top: 118.8px; font-size: 9.6px; font-weight: bold; color: rgb(68, 68, 68); transform-origin: 0px 50%; transform: scaleX(0.9782);">(Выход)</span>
<svg style="left:978.5px;top:115.3px" width="15" height="15" viewBox="0 0 15 15"><circle cx="7.5" cy="7.5" r="7.5" fill="#d57b6b"></circle><path d="M4.9 4.9L10.1 10.1M10.1 4.9L4.9 10.1" stroke="#fff" stroke-width="1.7"></path></svg>
<span class="t" style="left:1003.2px;top:116.8px;font-size:17px;color:#000">⇒</span>
<svg style="left:1021px;top:113.9px" width="50.2" height="18"><path d="M0 0H50.2V18H0L7 9Z" fill="#6f9e35"></path></svg>
<span class="t" style="left: 1034.7px; top: 119.6px; font-size: 10.8px; color: rgb(255, 255, 255); transform-origin: 0px 50%; transform: scaleX(1.0844);">Вход</span>
<div class="a" style="left:1075.2px;top:112px;width:21.6px;height:21.6px;border-radius:50%;background:#1a6b22"></div>
<svg style="left:1075.2px;top:112px" width="21.6" height="21.6" viewBox="0 0 21.6 21.6"><path d="M6.6 5.2L17.2 10.8L6.6 16.4Z" fill="#e6efe6"></path></svg>
<div class="a" style="left:1098px;top:112px;width:21.6px;height:21.6px;border-radius:50%;background:#1b7ba3"></div>
<svg style="left:1098px;top:112px" width="21.6" height="21.6" viewBox="0 0 21.6 21.6">
 <ellipse cx="10.8" cy="12.2" rx="3.6" ry="4.6" fill="#fff"></ellipse><path d="M8 7.6A2.8 2.6 0 0 1 13.6 7.6Z" fill="#fff"></path>
 <path d="M7.4 10.4L4.8 8.6M7.2 12.6H4.4M7.4 14.8L5 16.8M14.2 10.4L16.8 8.6M14.4 12.6H17.2M14.2 14.8L16.6 16.8M8.6 5.8L7.6 4.4M13 5.8L14 4.4" stroke="#fff" stroke-width="1.1"></path>
 <path d="M10.8 8V16.6" stroke="#1b7ba3" stroke-width="0.9"></path>
</svg>
<!-- row2 -->
<svg style="left:836px;top:145.2px" width="61" height="17.6"><path d="M0 0H51.6L61 8.8L51.6 17.6H0Z" fill="#6f9e35"></path></svg>
<span class="t" style="left: 846px; top: 150.7px; font-size: 10.8px; color: rgb(255, 255, 255); transform-origin: 0px 50%; transform: scaleX(1.0832);">Выход</span>
<span class="t" style="left:900.8px;top:147.2px;font-size:17px;color:#000">⇒</span>
<div class="chip gchip" style="left:920.2px;top:143.2px;width:126.4px;height:22.4px"></div>
<svg style="left:927.0px;top:149.6px" width="17.4" height="9.0" viewBox="0 0 24 13" preserveAspectRatio="none"><path d="M0.6 0.6H5.4L9.0 6.5L5.4 12.4H0.6L4.2 6.5Z" fill="#f3dfa6" stroke="#8c8672" stroke-width="1.0" stroke-linejoin="round"></path><path d="M7.8 0.6H12.6L16.2 6.5L12.6 12.4H7.8L11.4 6.5Z" fill="#f3dfa6" stroke="#8c8672" stroke-width="1.0" stroke-linejoin="round"></path><path d="M15.0 0.6H19.8L23.4 6.5L19.8 12.4H15.0L18.6 6.5Z" fill="#f9ae16" stroke="#b98a2a" stroke-width="1.0" stroke-linejoin="round"></path></svg>
<span class="t" style="left: 948.3px; top: 148.6px; font-size: 13.4px; color: rgb(38, 51, 14); transform-origin: 0px 50%; transform: scaleX(0.9416);">Процесс</span>
<span class="t" style="left: 1001px; top: 150.6px; font-size: 9.6px; font-weight: bold; color: rgb(68, 68, 68); transform-origin: 0px 50%; transform: scaleX(0.938);">(end)</span>
<svg style="left:1027.1px;top:146.5px" width="15" height="15" viewBox="0 0 15 15"><circle cx="7.5" cy="7.5" r="7.5" fill="#d57b6b"></circle><path d="M4.9 4.9L10.1 10.1M10.1 4.9L4.9 10.1" stroke="#fff" stroke-width="1.7"></path></svg>
<!-- row3 -->
<svg style="left:836px;top:176px" width="39" height="17.6"><path d="M0 0H29.6L39 8.8L29.6 17.6H0Z" fill="#d77b5c"></path></svg>
<span class="t" style="left: 846px; top: 180.6px; font-size: 10.8px; color: rgb(255, 255, 255); transform-origin: 0px 50%; transform: scaleX(1.0149);">err</span>
<span class="t" style="left:879px;top:177.8px;font-size:17px;color:#000">⇒</span>
<div class="chip gchip" style="left:899.2px;top:174.2px;width:66.8px;height:21.4px;border-color:#9fbc90"></div>
<span class="t" style="left: 908.8px; top: 179.6px; font-size: 10.4px; color: rgb(138, 160, 132); transform-origin: 0px 50%; transform: scaleX(0.9612);">Не связан</span>

<!-- ===== section 2 ===== -->
<div class="sec" style="top:208px;height:231.4px"></div>
<svg style="left:836.4px;top:227.8px" width="10.4" height="6.6" viewBox="0 0 10.4 6.6"><path d="M0.8 1L5.2 5.4L9.6 1" fill="none" stroke="#62748f" stroke-width="2"></path></svg>
<span class="t h" style="left: 849px; top: 223.4px; font-size: 15.8px; transform-origin: 0px 50%; transform: scaleX(1.0422);">Почтовый сервер</span>
<div class="hr" style="top:246.2px"></div>
<div class="chip bchip" style="left:838px;top:252.4px;width:142.8px;height:23px"></div>
<svg style="left:844.0px;top:255.2px" width="18.0" height="17.4" viewBox="0 0 28 29" preserveAspectRatio="none"><rect x="0" y="0" width="28" height="4" fill="#0d6687"></rect><path d="M0 5.6H28V24L14 29L0 24Z" fill="#0d6687"></path><path d="M0 21L14 26L28 21" fill="none" stroke="#fff" stroke-width="1.3"></path><text x="14" y="18.2" text-anchor="middle" font-family="Liberation Sans" font-weight="bold" font-size="13.5" fill="#fff">JS</text></svg>
<span class="t" style="left: 865.7px; top: 260.4px; font-size: 12.8px; color: rgb(22, 32, 44); transform-origin: 0px 50%; transform: scaleX(0.9599);">JavaScript 1</span>
<span class="t" style="left: 936.9px; top: 260.6px; font-size: 9.6px; font-weight: bold; color: rgb(68, 68, 68); transform-origin: 0px 50%; transform: scaleX(0.9666);">(out)</span>
<svg style="left:960.9px;top:257.1px" width="15" height="15" viewBox="0 0 15 15"><circle cx="7.5" cy="7.5" r="7.5" fill="#d57b6b"></circle><path d="M4.9 4.9L10.1 10.1M10.1 4.9L4.9 10.1" stroke="#fff" stroke-width="1.7"></path></svg>
<span class="t" style="left:987px;top:257px;font-size:17px;color:#000">⇒</span>
<div class="a" style="left:1004.8px;top:253.8px;width:47.2px;height:21px;border-radius:10.5px;background:#2292b0"></div>
<div class="a" style="left:1000.4px;top:258.5px;width:12px;height:12px;border-radius:50%;background:#2292b0;border:1.6px solid #fff"></div>
<span class="t" style="left: 1018.8px; top: 258.7px; font-size: 11.8px; color: rgb(255, 255, 255); transform-origin: 0px 50%; transform: scaleX(0.9759);">args</span>

<span class="t lbl" style="left: 835.3px; top: 285.2px; transform-origin: 0px 50%; transform: scaleX(0.9255);">Конфигурация SMTP</span>
<div class="a" style="left:953.3px;top:283.8px;width:114.2px;height:14.8px;border:1px solid #c8c8c8;border-radius:3px;background:linear-gradient(#fafafa,#ededed)"></div><svg style="left:1053.5px;top:289.59999999999997px" width="8" height="4.4"><path d="M0 0H8L4 4.4Z" fill="#111"></path></svg>
<span class="t" style="left: 958.3px; top: 287.4px; font-size: 10px; color: rgb(17, 17, 17); transform-origin: 0px 50%; transform: scaleX(1.0226);">Пользовательская</span>
<span class="t lbl" style="left: 835.3px; top: 307.6px; transform-origin: 0px 50%; transform: scaleX(0.9217);">Хост</span>
<div class="inp" style="left:911.3px;top:305.4px;width:134.6px;height:18px"></div>
<span class="t" style="left: 915.6px; top: 307.4px; font-size: 13.4px; color: rgb(68, 68, 68); transform-origin: 0px 50%; transform: scaleX(0.935);">smtp.yandex.ru</span>
<span class="t lbl" style="left: 835.3px; top: 330.2px; transform-origin: 0px 50%; transform: scaleX(0.9314);">Порт</span>
<div class="inp" style="left:911.3px;top:326.6px;width:134.6px;height:18.6px"></div>
<span class="t" style="left: 915.6px; top: 329.4px; font-size: 13.4px; color: rgb(68, 68, 68); transform-origin: 0px 50%; transform: scaleX(0.9399);">465</span>
<span class="t lbl" style="left: 835.3px; top: 352.2px; transform-origin: 0px 50%; transform: scaleX(0.953);">Безопасность</span>
<div class="a" style="left:916.3px;top:350.8px;width:64.4px;height:14.8px;border:1px solid #c8c8c8;border-radius:3px;background:linear-gradient(#fafafa,#ededed)"></div><svg style="left:966.6999999999999px;top:356.59999999999997px" width="8" height="4.4"><path d="M0 0H8L4 4.4Z" fill="#111"></path></svg>
<span class="t" style="left: 920.8px; top: 354.4px; font-size: 10.2px; color: rgb(17, 17, 17); transform-origin: 0px 50%; transform: scaleX(0.9122);">SSL/TLS</span>
<div class="a" style="left:835.3px;top:371.4px;width:17.6px;height:17.2px;border-radius:4px;background:#21b393"></div><svg style="left:835.3px;top:371.4px" width="17.6" height="17.2" viewBox="0 0 17.6 17.2"><path d="M4.4 8.8L7.6 12L13.4 5.8" fill="none" stroke="#fff" stroke-width="2"></path></svg>
<span class="t lbl" style="left: 855.8px; top: 374.2px; font-size: 13px; transform-origin: 0px 50%; transform: scaleX(0.9165);">Игнорировать сертификат</span>
<span class="t lbl" style="left: 835.3px; top: 394.8px; transform-origin: 0px 50%; transform: scaleX(0.9565);">Пользователь</span>
<div class="inp" style="left:918.2px;top:391.2px;width:134.6px;height:19.4px"></div>
<div class="a" style="left:919.2px;top:392.2px;width:48px;height:17.4px;border-radius:3px 0 0 3px;background:linear-gradient(to right,#f1f1f1 0,#e0e0e0 25%,#dadada 75%,#ececec 100%)"></div>
<span class="t" style="left: 963.4px; top: 393.8px; font-size: 13.4px; color: rgb(68, 68, 68); transform-origin: 0px 50%; transform: scaleX(0.8977);">@yandex.ru</span>
<span class="t lbl" style="left: 835.3px; top: 415.8px; transform-origin: 0px 50%; transform: scaleX(0.9222);">Пароль</span>
<div class="inp" style="left:911.3px;top:413.2px;width:180.2px;height:17.6px"></div>
<svg style="left:915.4px;top:419.4px" width="56" height="5" viewBox="0 0 56 5"><g fill="#000"><circle cx="1.90" cy="2.5" r="1.75"></circle><circle cx="5.86" cy="2.5" r="1.75"></circle><circle cx="9.82" cy="2.5" r="1.75"></circle><circle cx="13.78" cy="2.5" r="1.75"></circle><circle cx="17.74" cy="2.5" r="1.75"></circle><circle cx="21.70" cy="2.5" r="1.75"></circle><circle cx="25.66" cy="2.5" r="1.75"></circle><circle cx="29.62" cy="2.5" r="1.75"></circle><circle cx="33.58" cy="2.5" r="1.75"></circle><circle cx="37.54" cy="2.5" r="1.75"></circle><circle cx="41.50" cy="2.5" r="1.75"></circle><circle cx="45.46" cy="2.5" r="1.75"></circle><circle cx="49.42" cy="2.5" r="1.75"></circle><circle cx="53.38" cy="2.5" r="1.75"></circle></g></svg>

<!-- ===== section 3 ===== -->
<div class="sec" style="top:442.2px;height:174px"></div>
<svg style="left:836.4px;top:462.2px" width="10.4" height="6.6" viewBox="0 0 10.4 6.6"><path d="M0.8 1L5.2 5.4L9.6 1" fill="none" stroke="#62748f" stroke-width="2"></path></svg>
<span class="t h" style="left: 849px; top: 457.8px; font-size: 15.8px; transform-origin: 0px 50%; transform: scaleX(1.0085);">Сообщение</span>
<div class="hr" style="top:479.2px"></div>
<span class="t lbl" style="left: 835.3px; top: 487.4px; transform-origin: 0px 50%; transform: scaleX(0.933);">Отправитель</span>
<div class="inp" style="left:911.3px;top:483.2px;width:180.0px;height:19.2px"></div><svg style="left:1079.3px;top:491.2px" width="7.6" height="4"><path d="M0 0H7.6L3.8 4Z" fill="#111"></path></svg>
<div class="a" style="left:910px;top:484.4px;width:46.6px;height:16.8px;background:linear-gradient(to right,#f6f6f6 0,#e6e6e6 25%,#dcdcdc 70%,#ececec 100%)"></div>
<span class="t" style="left: 955.6px; top: 487.4px; font-size: 13.4px; color: rgb(34, 34, 34); transform-origin: 0px 50%; transform: scaleX(0.9032);">@yandex.ru</span>
<span class="t lbl" style="left: 835.3px; top: 508.8px; transform-origin: 0px 50%; transform: scaleX(0.9454);">Получатель</span>
<div class="inp" style="left:911.3px;top:505.2px;width:180.0px;height:18.6px"></div><svg style="left:1079.3px;top:512.9px" width="7.6" height="4"><path d="M0 0H7.6L3.8 4Z" fill="#111"></path></svg>
<div class="a" style="left:912.3px;top:506.4px;width:69px;height:16px;border-radius:3px 0 0 3px;background:linear-gradient(to right,#f3f3f3 0,#e4e4e4 20%,#e0e0e0 70%,#f6f6f6 100%)"></div>
<span class="t lbl" style="left: 835.3px; top: 530.2px; transform-origin: 0px 50%; transform: scaleX(0.9553);">Получатель копии</span>
<div class="inp" style="left:940.3px;top:526.0px;width:180.0px;height:19.2px"></div><svg style="left:1108.3px;top:534.0px" width="7.6" height="4"><path d="M0 0H7.6L3.8 4Z" fill="#111"></path></svg>
<span class="t lbl" style="left: 835.3px; top: 552.2px; transform-origin: 0px 50%; transform: scaleX(0.9376);">Тема</span>
<div class="inp" style="left:911.3px;top:548.2px;width:180.0px;height:19.2px"></div><svg style="left:1079.3px;top:556.2px" width="7.6" height="4"><path d="M0 0H7.6L3.8 4Z" fill="#111"></path></svg>
<div class="a" style="left:916.2px;top:555.8px;width:8px;height:8px;border-radius:50%;background:#0f7f12"></div>
<span class="t" style="left: 928.9px; top: 553.4px; font-size: 13.4px; color: rgb(34, 34, 34); transform-origin: 0px 50%; transform: scaleX(0.9195);">subj</span>
<div class="a" style="left:835.3px;top:569.1px;width:17.6px;height:17.2px;border-radius:4px;background:#21b393"></div><svg style="left:835.3px;top:569.1px" width="17.6" height="17.2" viewBox="0 0 17.6 17.2"><path d="M4.4 8.8L7.6 12L13.4 5.8" fill="none" stroke="#fff" stroke-width="2"></path></svg>
<span class="t lbl" style="left: 855.8px; top: 571.6px; font-size: 13px; transform-origin: 0px 50%; transform: scaleX(0.9066);">Отправить как HTML</span>
<span class="t lbl" style="left: 835.3px; top: 593.2px; transform-origin: 0px 50%; transform: scaleX(0.9202);">Сообщение</span>
<div class="inp" style="left:911.3px;top:589.6px;width:180.0px;height:19.2px"></div><svg style="left:1079.3px;top:597.6px" width="7.6" height="4"><path d="M0 0H7.6L3.8 4Z" fill="#111"></path></svg>
<div class="a" style="left:916.2px;top:597.6px;width:8px;height:8px;border-radius:50%;background:#0f7f12"></div>
<span class="t" style="left: 928.9px; top: 594.6px; font-size: 13.4px; color: rgb(34, 34, 34); transform-origin: 0px 50%; transform: scaleX(0.9818);">text</span>

<!-- ===== section 4 ===== -->
<div class="sec" style="top:619.4px;height:65.8px"></div>
<svg style="left:836.4px;top:638.6px" width="10.4" height="6.6" viewBox="0 0 10.4 6.6"><path d="M0.8 1L5.2 5.4L9.6 1" fill="none" stroke="#62748f" stroke-width="2"></path></svg>
<span class="t h" style="left: 849px; top: 634.2px; font-size: 15.8px; transform-origin: 0px 50%; transform: scaleX(1.0056);">Отладка</span>
<div class="hr" style="top:656.2px"></div>
<div class="a" style="left:835.3px;top:660.5px;width:17.6px;height:17.2px;border-radius:4px;background:#d3d7da"></div>
<span class="t lbl" style="left: 855.8px; top: 662.8px; font-size: 13px; transform-origin: 0px 50%; transform: scaleX(0.9188);">Установить breakpoint</span>

<!-- ANNOT -->
<svg style="left:0;top:0" width="1358" height="784">
<path d="M211.6 664.0L85.4 733.5" stroke="#ff0000" stroke-width="1.9" stroke-linecap="round"></path><path d="M71.8 741.0L85.4 727.3L85.4 733.5L90.6 736.8Z" fill="#ff0000"></path>
<path d="M497.2 384.5L571.4 319.2" stroke="#ff0000" stroke-width="1.9" stroke-linecap="round"></path><path d="M583.0 309.0L572.7 325.3L571.4 319.2L565.5 317.2Z" fill="#ff0000"></path>
<path d="M1156.4 255.5L999.2 315.8" stroke="#ff0000" stroke-width="1.9" stroke-linecap="round"></path><path d="M984.7 321.3L1000.0 309.6L999.2 315.8L1003.9 319.7Z" fill="#ff0000"></path>
<path d="M1190.8 354.5L1013.2 407.2" stroke="#ff0000" stroke-width="1.9" stroke-linecap="round"></path><path d="M998.3 411.6L1014.5 401.2L1013.2 407.2L1017.6 411.5Z" fill="#ff0000"></path>
<path d="M1192.7 443.5L1036.8 510.3" stroke="#ff0000" stroke-width="1.9" stroke-linecap="round"></path><path d="M1022.6 516.4L1037.5 504.1L1036.8 510.3L1041.7 514.1Z" fill="#ff0000"></path>
<path d="M1191.5 517.4L1070.2 566.7" stroke="#ff0000" stroke-width="1.9" stroke-linecap="round"></path><path d="M1055.8 572.5L1070.9 560.5L1070.2 566.7L1075.0 570.5Z" fill="#ff0000"></path>
<path d="M224.6 662V658.9H230.4V640.4L224.2 641.8V638.5L230.6 636H233.8V658.9H239.6V662Z" fill="#c00000"></path>
</svg>
<span class="t num" style="left:455.0px;top:381.3px">2</span>
<span class="t num" style="left:1160.0px;top:241.1px">3</span>
<span class="t num" style="left:1199.0px;top:326.7px">4</span>
<span class="t num" style="left:1205.0px;top:432.1px">5</span>
<span class="t num" style="left:1196.0px;top:504.5px">6</span>



</body></html>
